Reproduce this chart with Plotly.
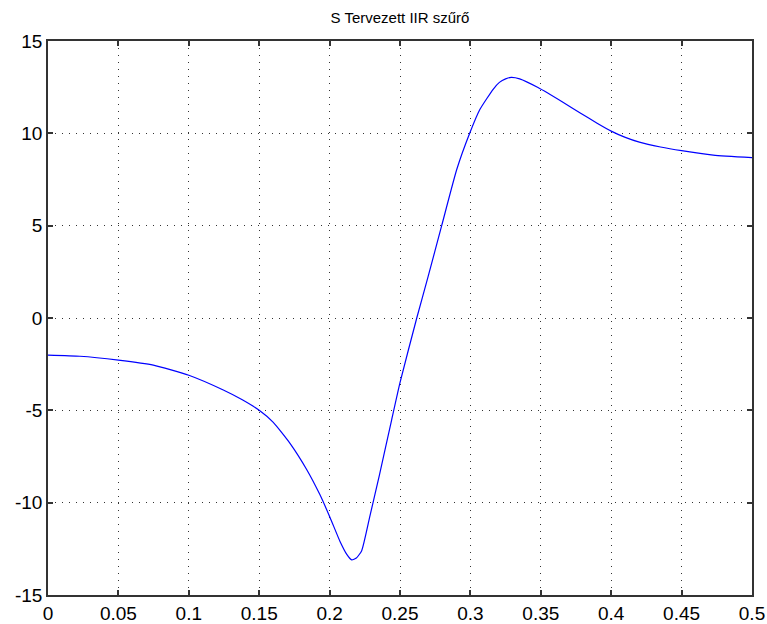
import plotly.graph_objects as go

title_text = "S Tervezett IIR szűrő"
freq = [0, 0.0227, 0.05, 0.0748, 0.1, 0.1245, 0.138, 0.15, 0.160, 0.172,
        0.1837, 0.193, 0.2003, 0.2074, 0.2122, 0.2157, 0.219, 0.2228, 0.2287, 0.2353,
        0.244, 0.25, 0.2619, 0.270, 0.2796, 0.2903, 0.2997, 0.3068, 0.3163, 0.3206,
        0.325, 0.329, 0.335, 0.348, 0.366, 0.378, 0.39, 0.40, 0.41, 0.42, 0.435, 0.45,
        0.4725, 0.5]
gain = [-2.01, -2.07, -2.28, -2.55, -3.1, -3.9, -4.43, -5.0, -5.65, -6.8,
        -8.2, -9.55, -10.8, -12.1, -12.8, -13.1, -13.0, -12.6, -10.7, -8.53,
        -5.54, -3.5, 0.0, 2.25, 5.0, 8.04, 10.04, 11.3, 12.4, 12.76,
        12.95, 13.03, 12.95, 12.48, 11.67, 11.1, 10.55, 10.12, 9.78, 9.52, 9.26, 9.06,
        8.82, 8.68]
x_ticks = [0, 0.05, 0.1, 0.15, 0.2, 0.25, 0.3, 0.35, 0.4, 0.45, 0.5]
x_labels = ["0", "0.05", "0.1", "0.15", "0.2", "0.25", "0.3", "0.35", "0.4", "0.45", "0.5"]
y_ticks = [-15, -10, -5, 0, 5, 10, 15]
y_labels = ["-15", "-10", "-5", "0", "5", "10", "15"]

fig = go.Figure()
fig.add_trace(go.Scatter(x=freq, y=gain, mode="lines",
                         line=dict(color="#0000FF", width=1.2, shape="spline", smoothing=0.5),
                         showlegend=False, hoverinfo="skip"))

axis_common = dict(
    showline=True, linecolor="#333333", linewidth=1.5, mirror="allticks",
    ticks="inside", ticklen=5, tickcolor="#333333", tickwidth=1.5,
    showgrid=True, gridcolor="#333333", gridwidth=1, griddash="1px,6px",
    zeroline=False, automargin=False,
    tickfont=dict(family="Liberation Sans, Arial, sans-serif", size=19, color="#000000"),
)

fig.update_xaxes(range=[0, 0.5], tickvals=x_ticks, ticktext=x_labels,
                 ticklabelstandoff=0, **axis_common)
fig.update_yaxes(range=[-15, 15], tickvals=y_ticks, ticktext=y_labels, **axis_common)

fig.update_layout(
    width=767, height=624,
    margin=dict(l=48, r=15, t=41, b=29),
    paper_bgcolor="white", plot_bgcolor="white",
    title=dict(text=title_text, x=0.5, xref="paper", xanchor="center",
               y=1 - 18 / 624, yref="container", yanchor="middle",
               font=dict(family="Liberation Sans, Arial, sans-serif",
                         size=15, color="#000000")),
)

fig.write_html("out.html")
